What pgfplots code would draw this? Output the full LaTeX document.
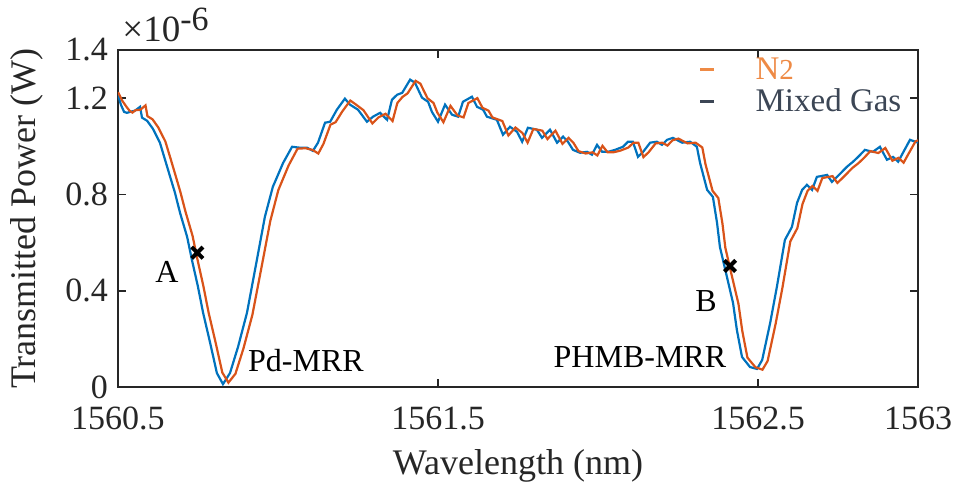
\documentclass[border=0pt]{standalone}
\usepackage{pgfplots}
\pgfplotsset{compat=1.18}
\usepackage{pgfplotstable}
\usepackage{fontspec}
\setmainfont{Liberation Serif}
\definecolor{mblue}{HTML}{0072BD}
\definecolor{morange}{HTML}{D95319}
\definecolor{axgray}{HTML}{262626}
\definecolor{legor}{HTML}{EE8A45}
\definecolor{legdk}{HTML}{3C4655}

\pgfplotstableread{
x y
1560.500 1.214
1560.509 1.173
1560.519 1.143
1560.528 1.139
1560.538 1.143
1560.553 1.148
1560.569 1.164
1560.575 1.119
1560.591 1.106
1560.609 1.073
1560.631 1.015
1560.647 0.944
1560.663 0.873
1560.678 0.807
1560.694 0.723
1560.716 0.624
1560.731 0.528
1560.750 0.416
1560.766 0.308
1560.788 0.183
1560.809 0.058
1560.828 0.012
1560.850 0.058
1560.875 0.166
1560.903 0.308
1560.934 0.528
1560.959 0.707
1560.984 0.832
1561.016 0.931
1561.044 0.998
1561.069 0.994
1561.091 0.994
1561.109 0.981
1561.125 1.015
1561.147 1.098
1561.163 1.102
1561.184 1.152
1561.209 1.198
1561.225 1.173
1561.250 1.152
1561.278 1.102
1561.297 1.123
1561.319 1.139
1561.341 1.110
1561.356 1.193
1561.372 1.214
1561.388 1.222
1561.413 1.277
1561.428 1.264
1561.450 1.202
1561.469 1.185
1561.481 1.143
1561.500 1.102
1561.522 1.173
1561.544 1.131
1561.563 1.123
1561.578 1.185
1561.606 1.206
1561.622 1.164
1561.641 1.152
1561.653 1.123
1561.684 1.110
1561.703 1.048
1561.725 1.081
1561.747 1.060
1561.763 1.019
1561.781 1.077
1561.809 1.069
1561.825 1.035
1561.850 1.069
1561.872 1.015
1561.891 1.040
1561.906 1.019
1561.922 0.985
1561.944 0.973
1561.966 0.977
1561.981 0.965
1561.997 1.006
1562.013 0.977
1562.031 0.977
1562.053 0.985
1562.078 0.998
1562.094 1.019
1562.109 1.019
1562.125 0.956
1562.141 0.977
1562.163 1.015
1562.184 1.019
1562.200 1.006
1562.216 1.027
1562.234 1.035
1562.263 1.015
1562.288 1.019
1562.309 0.998
1562.319 0.931
1562.341 0.819
1562.359 0.790
1562.372 0.682
1562.381 0.582
1562.403 0.457
1562.422 0.349
1562.434 0.237
1562.450 0.125
1562.475 0.083
1562.497 0.075
1562.513 0.112
1562.538 0.266
1562.559 0.416
1562.584 0.611
1562.606 0.665
1562.622 0.765
1562.638 0.819
1562.653 0.840
1562.669 0.819
1562.684 0.873
1562.716 0.881
1562.731 0.852
1562.747 0.873
1562.778 0.915
1562.797 0.936
1562.813 0.956
1562.834 0.985
1562.859 0.977
1562.881 0.998
1562.903 0.944
1562.922 0.956
1562.938 0.936
1562.953 0.973
1562.975 1.027
1563.000 1.015
}\mixedgas

\pgfplotstableread{
x y
1560.500 1.225
1560.513 1.190
1560.526 1.165
1560.536 1.148
1560.545 1.140
1560.555 1.150
1560.570 1.152
1560.586 1.170
1560.592 1.125
1560.608 1.112
1560.626 1.078
1560.648 1.020
1560.664 0.950
1560.680 0.878
1560.695 0.810
1560.711 0.728
1560.733 0.628
1560.748 0.532
1560.767 0.418
1560.783 0.310
1560.805 0.185
1560.826 0.060
1560.845 0.018
1560.867 0.055
1560.892 0.160
1560.920 0.300
1560.951 0.515
1560.976 0.690
1561.001 0.818
1561.033 0.920
1561.061 0.990
1561.086 0.992
1561.108 0.985
1561.126 0.970
1561.142 1.010
1561.164 1.090
1561.180 1.100
1561.201 1.145
1561.226 1.190
1561.242 1.175
1561.267 1.150
1561.295 1.095
1561.314 1.120
1561.336 1.135
1561.358 1.105
1561.373 1.180
1561.389 1.205
1561.405 1.220
1561.430 1.272
1561.445 1.260
1561.467 1.200
1561.486 1.180
1561.498 1.140
1561.517 1.100
1561.539 1.168
1561.561 1.128
1561.580 1.120
1561.595 1.180
1561.623 1.200
1561.639 1.160
1561.658 1.148
1561.670 1.120
1561.701 1.105
1561.720 1.045
1561.742 1.078
1561.764 1.055
1561.780 1.015
1561.798 1.072
1561.826 1.065
1561.842 1.030
1561.867 1.065
1561.889 1.010
1561.908 1.035
1561.923 1.015
1561.939 0.980
1561.961 0.970
1561.983 0.975
1561.998 0.962
1562.014 1.002
1562.030 0.975
1562.048 0.975
1562.070 0.982
1562.095 0.995
1562.111 1.015
1562.126 1.015
1562.142 0.955
1562.158 0.975
1562.180 1.012
1562.201 1.015
1562.217 1.003
1562.233 1.025
1562.251 1.032
1562.280 1.012
1562.305 1.015
1562.326 0.995
1562.336 0.925
1562.358 0.815
1562.376 0.785
1562.389 0.678
1562.398 0.578
1562.420 0.452
1562.439 0.345
1562.451 0.232
1562.467 0.122
1562.492 0.082
1562.514 0.072
1562.530 0.108
1562.555 0.262
1562.576 0.410
1562.601 0.605
1562.623 0.660
1562.639 0.760
1562.655 0.815
1562.670 0.835
1562.686 0.815
1562.701 0.868
1562.733 0.876
1562.748 0.848
1562.764 0.868
1562.795 0.910
1562.814 0.930
1562.830 0.950
1562.851 0.980
1562.876 0.972
1562.898 0.993
1562.920 0.940
1562.939 0.952
1562.955 0.932
1562.970 0.968
1562.992 1.020
1563.000 1.025
}\nitrogen

\begin{document}
\begin{tikzpicture}
\path[use as bounding box] (-59pt,-48.5pt) rectangle (420pt,193.5pt);
\begin{axis}[
  at={(0,0)}, anchor=south west,
  scale only axis, width=400pt, height=168.5pt,
  xmin=1560.5, xmax=1563, ymin=0, ymax=1.4,
  xtick={1560.5,1561.5,1562.5,1563},
  xticklabels={1560.5,1561.5,1562.5,1563},
  ytick={0,0.4,0.8,1.2,1.4},
  yticklabels={0,0.4,0.8,1.2,1.4},
  /pgf/number format/assume math mode=true,
  tick align=inside, major tick length=4pt,
  xtick pos=both, ytick pos=both,
  axis line style={axgray, line width=0.8pt},
  tick style={axgray, line width=0.8pt},
  ticklabel style={font=\fontsize{17}{17}\selectfont, text=axgray},
  yticklabel style={xshift=-1.5pt},
  xticklabel style={yshift=-6.5pt},
  xlabel={Wavelength (nm)}, ylabel={Transmitted Power (W)},
  label style={font=\fontsize{18}{18}\selectfont, text=axgray},
  xlabel style={at={(axis description cs:0.5,-0.165)}, anchor=north},
  ylabel style={at={(axis description cs:-0.085,0.5)}, anchor=south, rotate=0},
  clip mode=individual,
  legend style={at={(rel axis cs:0.726,0.994)}, anchor=north west,
    draw=none, fill=none, inner sep=0pt, row sep=-1pt,
    nodes={inner sep=2pt}, font=\fontsize{16.5}{16.5}\selectfont,
    /tikz/every odd column/.append style={column sep=18pt}},
  legend cell align=left,
  legend image code/.code={\draw[#1, line width=1.2pt] (0pt,0pt)--(7pt,0pt);},
]
\addlegendimage{legor}
\addlegendentry{\strut\textcolor{legor}{N{\fontsize{14.5}{14.5}\selectfont 2}}}
\addlegendimage{legdk}
\addlegendentry{\strut\textcolor{legdk}{Mixed Gas}}

\addplot[mblue, line width=1.1pt, forget plot] table[x=x, y=y] {\mixedgas};
\addplot[morange, line width=1.1pt, forget plot] table[x=x, y=y] {\nitrogen};

\addplot[only marks, mark=x, mark size=4pt, black, mark options={line width=2pt}, forget plot]
  coordinates {(1560.748,0.558) (1562.4125,0.503)};

\node[font=\fontsize{16}{16}\selectfont, text=black] at (axis cs:1560.653,0.478) {A};
\node[font=\fontsize{16}{16}\selectfont, text=black] at (axis cs:1562.3375,0.358) {B};
\node[font=\fontsize{16}{16}\selectfont, text=black] at (axis cs:1561.0875,0.108) {Pd-MRR};
\node[font=\fontsize{16}{16}\selectfont, text=black] at (axis cs:1562.131,0.123) {PHMB-MRR};

\node[anchor=base west, inner sep=0pt, text=axgray, font=\fontsize{18.5}{18.5}\selectfont]
  at ([xshift=2pt, yshift=4.5pt]rel axis cs:0,1) {×10\raisebox{5.5pt}{\fontsize{17}{17}\selectfont -6}};
\end{axis}
\end{tikzpicture}
\end{document}
